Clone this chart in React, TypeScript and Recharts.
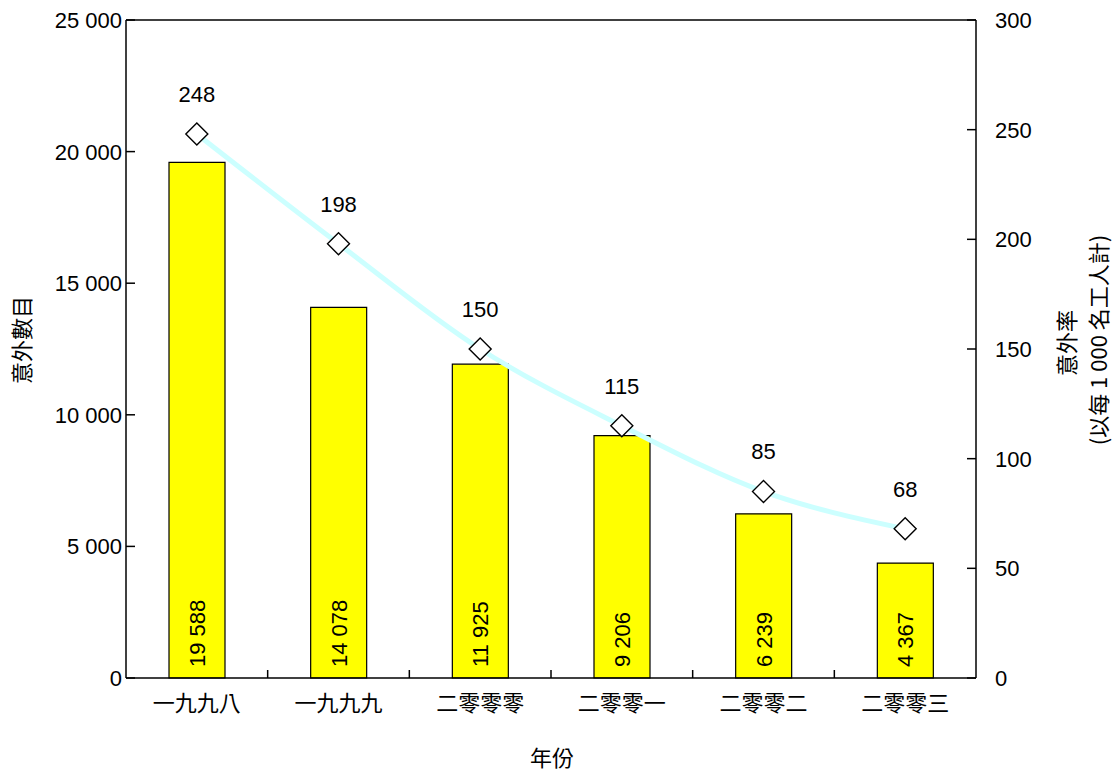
import React from 'react';
import {
    ComposedChart,
    Bar,
    Line,
    XAxis,
    YAxis,
    LabelList,
    ReferenceLine
} from 'recharts';

const years = ['一九九八', '一九九九', '二零零零', '二零零一', '二零零二', '二零零三'];
const accidents = [19588, 14078, 11925, 9206, 6239, 4367];
const rates = [248, 198, 150, 115, 85, 68];
const leftTicks = [0, 5000, 10000, 15000, 20000, 25000];
const rightTicks = [0, 50, 100, 150, 200, 250, 300];

const data = years.map((year, i) => ({ year, accidents: accidents[i], rate: rates[i] }));

const FONT = '"Liberation Sans", Arial, "Noto Sans CJK TC", sans-serif';
const CJK = '"Noto Sans CJK TC", "Liberation Sans", sans-serif';
const W = 1114;
const H = 772;
const LEFT_W = 126;
const RIGHT_W = 138;
const BAND = (W - LEFT_W - RIGHT_W) / years.length;

const fmt = (v: number) => v.toLocaleString('en-US').replace(/,/g, ' ');

const LeftTick = (props: any) => {
    const { x, y, payload } = props;
    return (
        <g>
            <line x1={x} x2={x + 9} y1={y} y2={y} stroke="#000" strokeWidth={1.5} />
            <text x={x - 4} y={y} dy="0.36em" textAnchor="end" fontSize={22} fontFamily={FONT} fill="#000">
                {fmt(payload.value)}
            </text>
        </g>
    );
};

const RightTick = (props: any) => {
    const { x, y, payload } = props;
    return (
        <g>
            <line x1={x} x2={x - 9} y1={y} y2={y} stroke="#000" strokeWidth={1.5} />
            <text x={x + 19} y={y} dy="0.36em" textAnchor="start" fontSize={22} fontFamily={FONT} fill="#000">
                {payload.value}
            </text>
        </g>
    );
};

const BottomTick = (props: any) => {
    const { x, y, payload, index } = props;
    return (
        <g>
            {index < years.length - 1 && (
                <line x1={x + BAND / 2} x2={x + BAND / 2} y1={y} y2={y - 8} stroke="#000" strokeWidth={1.5} />
            )}
            <text x={x} y={y + 25} dy="0.36em" textAnchor="middle" fontSize={22} fontFamily={CJK} fill="#000">
                {payload.value}
            </text>
        </g>
    );
};

const BarValue = (props: any) => {
    const { x, y, width, height, value } = props;
    const tx = x + width / 2 + 8;
    const ty = y + height - 11;
    return (
        <text x={tx} y={ty} transform={`rotate(-90 ${tx} ${ty})`} textAnchor="start" fontSize={22} fontFamily={FONT} fill="#000">
            {fmt(value)}
        </text>
    );
};

const RateValue = (props: any) => {
    const { x, y, value } = props;
    return (
        <text x={x} y={y - 40} dy="0.36em" textAnchor="middle" fontSize={22} fontFamily={FONT} fill="#000">
            {value}
        </text>
    );
};

const Diamond = (props: any) => {
    const { cx, cy } = props;
    if (cx == null || cy == null) return null;
    const r = 11;
    return (
        <path
            d={`M${cx},${cy - r} L${cx + r},${cy} L${cx},${cy + r} L${cx - r},${cy} Z`}
            fill="#fff"
            stroke="#000"
            strokeWidth={1.4}
        />
    );
};

export default function App() {
    return (
        <div style={{ position: 'absolute', left: 0, top: 0, width: W, height: H, background: '#fff' }}>
            <ComposedChart width={W} height={H} data={data} margin={{ top: 20, right: 0, left: 0, bottom: 0 }}>
                <XAxis
                    dataKey="year"
                    height={94}
                    stroke="#000"
                    strokeWidth={1.5}
                    tickLine={false}
                    tickSize={0}
                    tickMargin={0}
                    tick={<BottomTick />}
                    interval={0}
                />
                <YAxis
                    yAxisId="left"
                    orientation="left"
                    width={LEFT_W}
                    domain={[0, 25000]}
                    ticks={leftTicks}
                    stroke="#000"
                    strokeWidth={1.5}
                    tickLine={false}
                    tickSize={0}
                    tickMargin={0}
                    tick={<LeftTick />}
                    interval={0}
                />
                <YAxis
                    yAxisId="right"
                    orientation="right"
                    width={RIGHT_W}
                    domain={[0, 300]}
                    ticks={rightTicks}
                    stroke="#000"
                    strokeWidth={1.5}
                    tickLine={false}
                    tickSize={0}
                    tickMargin={0}
                    tick={<RightTick />}
                    interval={0}
                />
                <ReferenceLine yAxisId="left" y={25000} stroke="#000" strokeWidth={1.5} />
                <Bar
                    yAxisId="left"
                    dataKey="accidents"
                    fill="#ffff00"
                    stroke="#000"
                    strokeWidth={1.2}
                    barSize={56}
                    isAnimationActive={false}
                >
                    <LabelList dataKey="accidents" content={<BarValue />} />
                </Bar>
                <Line
                    yAxisId="right"
                    type="monotone"
                    dataKey="rate"
                    stroke="#ccffff"
                    strokeWidth={5}
                    dot={<Diamond />}
                    activeDot={false}
                    isAnimationActive={false}
                >
                    <LabelList dataKey="rate" content={<RateValue />} />
                </Line>
                <text
                    x={22}
                    y={340}
                    transform="rotate(-90 22 340)"
                    textAnchor="middle"
                    dy="0.36em"
                    fontSize={22}
                    fontFamily={CJK}
                    fill="#000"
                >
                    意外數目
                </text>
                <text
                    x={1067}
                    y={343}
                    transform="rotate(-90 1067 343)"
                    textAnchor="middle"
                    dy="0.36em"
                    fontSize={22}
                    fontFamily={CJK}
                    fill="#000"
                >
                    意外率
                </text>
                <text
                    x={1099}
                    y={340}
                    transform="rotate(-90 1099 340)"
                    textAnchor="middle"
                    dy="0.36em"
                    fontSize={22}
                    fontFamily={CJK}
                    fill="#000"
                >
                    (以每 1 000 名工人計)
                </text>
                <text x={552} y={758} textAnchor="middle" dy="0.36em" fontSize={22} fontFamily={CJK} fill="#000">
                    年份
                </text>
            </ComposedChart>
        </div>
    );
}
